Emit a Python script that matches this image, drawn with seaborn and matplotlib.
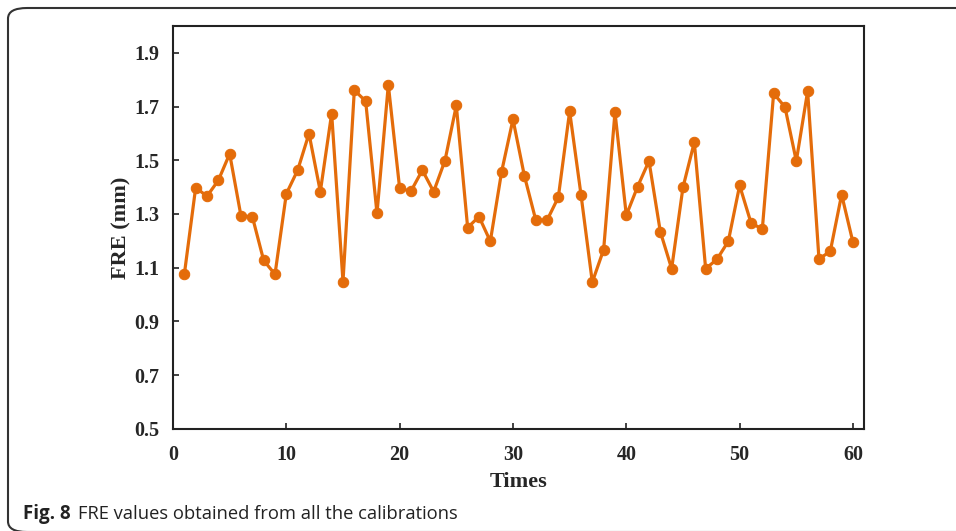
import numpy as np
import pandas as pd
import seaborn as sns
import matplotlib.pyplot as plt
from matplotlib.patches import FancyBboxPatch

# FRE for each calibration run
times = list(range(1, 61))
fre = [1.075, 1.398, 1.366, 1.425, 1.524, 1.292, 1.290, 1.127, 1.075, 1.375,
       1.463, 1.599, 1.383, 1.674, 1.048, 1.761, 1.720, 1.302, 1.781, 1.395,
       1.385, 1.463, 1.383, 1.499, 1.704, 1.249, 1.290, 1.198, 1.458, 1.652,
       1.443, 1.279, 1.276, 1.362, 1.682, 1.372, 1.046, 1.167, 1.679, 1.295,
       1.402, 1.497, 1.234, 1.096, 1.399, 1.567, 1.096, 1.131, 1.198, 1.406,
       1.267, 1.243, 1.749, 1.698, 1.497, 1.757, 1.132, 1.161, 1.372, 1.194]

yticks = [0.5, 0.7, 0.9, 1.1, 1.3, 1.5, 1.7, 1.9]
xticks = [0, 10, 20, 30, 40, 50, 60]

df = pd.DataFrame({'Times': times, 'FRE': fre})

sns.set_style('white')
plt.rcParams['font.family'] = ['Liberation Serif', 'DejaVu Serif']

fig = plt.figure(figsize=(9.56, 5.31), dpi=100)
ax = fig.add_axes([173 / 956, 1 - 428.7 / 531, (864.3 - 173) / 956, (428.7 - 26) / 531])

sns.lineplot(data=df, x='Times', y='FRE', ax=ax, color='#E46C0A', linewidth=2.3,
             marker='o', markersize=7.5, markeredgecolor='#E46C0A')

ax.set_xlim(0, 61)
ax.set_ylim(0.5, 2.0)
ax.set_xticks(xticks)
ax.set_yticks(yticks)
ax.set_yticklabels([f'{v:.1f}' for v in yticks])
ax.tick_params(direction='in', length=4, width=1.2, color='#222222',
               labelsize=14.5, bottom=True, left=True, top=False, right=False)
ax.tick_params(axis='y', pad=10)
ax.tick_params(axis='x', pad=12)
for lab in ax.get_xticklabels() + ax.get_yticklabels():
    lab.set_fontweight('bold')

for s in ax.spines.values():
    s.set_color('#222222')
    s.set_linewidth(1.5)

ax.set_xlabel('Times', fontsize=16, fontweight='bold', labelpad=5)
ax.set_ylabel('FRE (mm)', fontsize=16, fontweight='bold', labelpad=2)

# rounded frame around the figure
frame = FancyBboxPatch((8 / 956, -1 / 531), 1.2, 524 / 531,
                       boxstyle='round,pad=0,rounding_size=0.02',
                       transform=fig.transFigure, fill=False,
                       edgecolor='#333333', linewidth=1.5, clip_on=False)
fig.patches.append(frame)

fig.text(23 / 956, 1 - 514 / 531, 'Fig. 8', family='Open Sans', fontweight='bold',
         fontsize=13.5, va='center', ha='left', color='#222222')
fig.text(78 / 956, 1 - 514 / 531, 'FRE values obtained from all the calibrations',
         family='Open Sans', fontsize=13.2, va='center', ha='left', color='#222222')

fig.savefig('out.png', dpi=100)
